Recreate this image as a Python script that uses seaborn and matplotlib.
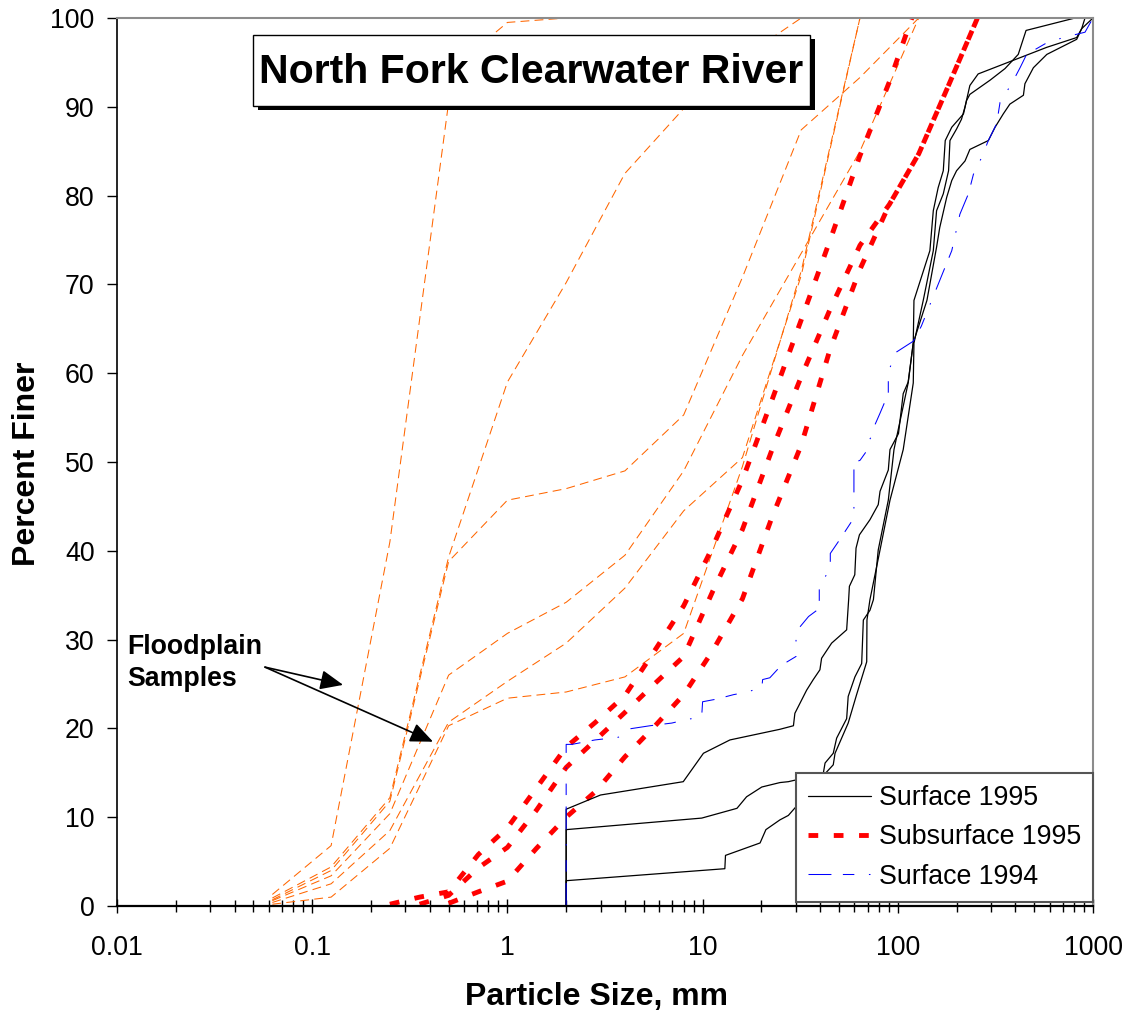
import numpy as np
import pandas as pd
import matplotlib
matplotlib.use("Agg")
import matplotlib.pyplot as plt
import seaborn as sns
from matplotlib.lines import Line2D
from matplotlib.patches import Rectangle
from matplotlib.ticker import LogLocator, NullFormatter

# ---------------- data ----------------
# Floodplain samples (orange dashed)
fp1_x = [0.0625, 0.125, 0.25, 0.5, 0.85, 1, 2]
fp1_y = [1.3, 6.8, 41.0, 90.5, 98.2, 99.5, 100]
fp2_x = [0.0625, 0.125, 0.25, 0.5, 1, 2, 4, 8, 16, 32]
fp2_y = [0.9, 4.4, 12.2, 39.3, 59.0, 70.2, 82.5, 89.8, 95.5, 100]
fp3_x = [0.0625, 0.125, 0.25, 0.5, 1, 2, 4, 8, 16, 32, 64, 128]
fp3_y = [0.7, 4.0, 11.8, 38.8, 45.7, 47.0, 49.0, 55.3, 70.8, 87.4, 93.3, 100]
fp4_x = [0.0625, 0.125, 0.25, 0.5, 1, 2, 4, 8, 16, 32, 64, 128]
fp4_y = [0.6, 3.4, 10.4, 26.0, 30.7, 34.2, 39.5, 49.0, 62.0, 73.5, 85.0, 100]
fp5_x = [0.0625, 0.125, 0.25, 0.5, 1, 2, 4, 8, 16, 32, 64]
fp5_y = [0.4, 2.5, 8.5, 20.7, 25.3, 29.6, 35.8, 44.5, 50.5, 71.0, 100]
fp6_x = [0.0625, 0.125, 0.25, 0.5, 1, 2, 4, 8, 16, 32, 64]
fp6_y = [0.2, 1.0, 6.5, 20.3, 23.4, 24.1, 25.8, 30.7, 49.5, 71.5, 100]

# Subsurface 1995 (red thick dashed)
sub1_x = [0.25, 0.355, 0.5, 0.71, 1, 1.41, 2, 2.83, 4, 5.66, 8, 11.3, 16, 22.6, 32, 45, 64, 90.5, 118]
sub1_y = [0.2, 1.0, 1.6, 5.8, 8.8, 13.3, 17.9, 20.7, 23.7, 28.7, 33.8, 40.5, 48.0, 56.9, 66.0, 75.0, 84.5, 92.8, 100]
sub2_x = [0.355, 0.5, 0.71, 1, 1.41, 2, 2.83, 4, 5.66, 8, 11.3, 16, 22.6, 32, 45, 64, 90.5, 128, 181, 256]
sub2_y = [0.2, 1.2, 4.3, 6.6, 10.8, 15.6, 18.7, 21.8, 25.0, 28.1, 35.5, 42.4, 51.3, 59.6, 67.2, 74.4, 79.0, 84.7, 92.3, 100]
sub3_x = [0.5, 0.71, 1, 1.41, 2, 2.83, 4, 5.66, 8, 11.3, 16, 22.6, 32, 45, 64, 90.5, 128, 181, 256]
sub3_y = [0.3, 1.6, 2.8, 6.5, 10.0, 12.9, 16.8, 20.2, 23.8, 28.8, 34.6, 43.7, 51.9, 62.7, 71.7, 79.0, 84.7, 92.3, 100]

# Surface 1995 (black solid)
srf1_x = [2, 2, 3.0, 7.96, 10.1, 13.8, 24.9, 29.2, 29.7, 34.1, 36.9, 39.9, 40.7, 45.8, 54.7, 56.0,
          56.5, 60.2, 61.1, 63.6, 72, 79.4, 81.1, 89.4, 91.2, 100.8, 106.6, 113, 120, 141, 158, 164,
          178, 189, 200, 221, 234, 291, 315, 347, 375, 440, 448, 495, 580, 825, 875, 910]
srf1_y = [0, 10.9, 12.5, 14.0, 17.2, 18.7, 19.9, 20.3, 21.7, 24.3, 25.5, 26.6, 27.9, 29.6, 31.1, 34.5,
          36.0, 37.3, 40.3, 41.8, 43.5, 45.2, 46.7, 49.1, 51.4, 53.2, 57.7, 59.0, 63.4, 68.2, 74.2, 76.4,
          79.8, 81.7, 82.8, 83.9, 85.2, 86.2, 87.7, 89.2, 90.3, 91.3, 92.6, 94.4, 95.9, 97.6, 98.8, 100]
srf2_x = [2, 2, 9.9, 15, 16.8, 20.1, 24.9, 27.5, 41.5, 42.4, 46.7, 48.6, 54.7, 55.7, 60.3, 65.3, 66.6,
          72, 75, 79.4, 89.4, 95.6, 113, 120, 121, 146, 152, 161, 171, 175, 189, 217, 225, 234, 297,
          354, 414, 454, 809]
srf2_y = [0, 8.6, 9.9, 11.0, 12.3, 13.4, 13.9, 14.0, 14.9, 16.1, 17.2, 18.9, 21.1, 23.6, 25.8, 27.3, 32.2,
          33.3, 34.5, 40.1, 45.7, 51.4, 58.9, 63.4, 68.2, 73.8, 78.3, 80.9, 82.8, 86.2, 87.7, 89.2, 90.7,
          91.4, 93.0, 94.3, 95.9, 98.6, 100]
srf3_x = [2, 2, 13, 13.1, 19.7, 21.1, 24.9, 27.5, 42.4, 46.7, 47.7, 55.7, 61.5, 69.3, 69.5, 72, 81.1,
          91.2, 106.6, 120, 121, 135, 152, 158, 171, 182, 185, 200, 212, 221, 234, 258, 580, 825, 875, 1000]
srf3_y = [0, 2.85, 4.2, 5.7, 7.1, 8.6, 9.7, 10.2, 14.9, 15.9, 17.2, 20.6, 23.8, 27.5, 32.2, 34.5, 40.1,
          45.7, 51.4, 58.9, 63.4, 68.2, 73.8, 78.3, 80.2, 82.8, 86.2, 87.5, 88.6, 90.0, 92.4, 93.7, 96.7,
          97.8, 98.8, 100]

# Surface 1994 (blue dash-dot)
s94_x = [2, 2, 2.14, 2.81, 3.7, 4.09, 5.38, 6.95, 8.29, 9.89, 10.0, 11.8, 14.4, 16.1, 18.9, 20.1, 20.3,
         22.1, 25.3, 30.1, 30.1, 34.9, 39.6, 39.6, 45.1, 45.1, 50.2, 59.6, 59.6, 64.1, 70.6, 70.6, 75, 75,
         81.1, 89.4, 89.4, 98.7, 120, 132, 146, 189, 208, 230, 244, 269, 291, 321, 334, 383, 423, 457,
         579, 705, 910, 1000]
s94_y = [0, 18.2, 18.2, 18.7, 19.0, 19.9, 20.3, 20.6, 21.0, 21.3, 23.0, 23.3, 23.8, 24.0, 24.4, 24.5, 25.5,
         25.7, 27.1, 28.1, 30.9, 32.6, 33.5, 36.0, 38.0, 39.7, 41.2, 43.7, 49.9, 50.2, 51.5, 52.3, 53.2, 53.8,
         55.5, 57.7, 60.2, 62.4, 63.6, 65.3, 67.7, 73.8, 77.9, 80.2, 82.4, 84.3, 86.2, 88.1, 90.5, 92.6, 94.4,
         95.9, 97.2, 97.8, 98.4, 100]

x_ticks = [0.01, 0.1, 1, 10, 100, 1000]
x_tick_labels = ["0.01", "0.1", "1", "10", "100", "1000"]
y_ticks = list(range(0, 101, 10))
legend_labels = ["Surface 1995", "Subsurface 1995", "Surface 1994"]

# ---------------- style ----------------
sns.set_style("white")
plt.rcParams["font.family"] = ["Liberation Sans", "DejaVu Sans"]
plt.rcParams["text.color"] = "black"
plt.rcParams["axes.labelcolor"] = "black"
plt.rcParams["xtick.color"] = "black"
plt.rcParams["ytick.color"] = "black"

W, H = 1129, 1014
fig = plt.figure(figsize=(W / 100, H / 100), dpi=100)
ax = fig.add_axes([117 / W, 1 - 906 / H, (1093 - 117) / W, (906 - 18) / H])
ax.set_xscale("log")
ax.set_xlim(0.01, 1000)
ax.set_ylim(0, 100)

ORANGE = "#FF6600"
RED = "#FF0000"
BLUE = "#0000FF"
orange_ls = (0, (8.5, 5))
red_ls = (0, (2.0, 3.2))
blue_ls = (0, (22, 11, 11, 14, 1.5, 14))


def draw(x, y, **kw):
    df = pd.DataFrame({"size": x, "finer": y})
    sns.lineplot(data=df, x="size", y="finer", ax=ax, sort=False,
                 estimator=None, **kw)


for fx, fy in [(fp1_x, fp1_y), (fp2_x, fp2_y), (fp3_x, fp3_y),
               (fp4_x, fp4_y), (fp5_x, fp5_y), (fp6_x, fp6_y)]:
    draw(fx, fy, color=ORANGE, linewidth=0.75, linestyle=orange_ls)

for rx, ry in [(sub1_x, sub1_y), (sub2_x, sub2_y), (sub3_x, sub3_y)]:
    draw(rx, ry, color=RED, linewidth=3.5, linestyle=red_ls)

for bx, by in [(srf1_x, srf1_y), (srf2_x, srf2_y), (srf3_x, srf3_y)]:
    draw(bx, by, color="black", linewidth=0.9, linestyle="-")

draw(s94_x, s94_y, color=BLUE, linewidth=0.75, linestyle=blue_ls)

# ---------------- axes ----------------
ax.set_xticks(x_ticks)
ax.set_xticklabels(x_tick_labels)
ax.xaxis.set_minor_locator(LogLocator(base=10, subs=np.arange(2, 10), numticks=100))
ax.xaxis.set_minor_formatter(NullFormatter())
ax.tick_params(axis="x", which="major", direction="inout", length=9.5, width=1.0,
               pad=16, labelsize=19.3, colors="black", bottom=True)
ax.tick_params(axis="x", which="minor", direction="inout", length=8.5, width=1.0,
               colors="black", bottom=True)
ax.set_yticks(y_ticks)
ax.tick_params(axis="y", which="major", direction="out", length=7.2, width=1.0,
               pad=8.9, labelsize=19.3, colors="black", left=True)

for s in ["top", "right"]:
    ax.spines[s].set_color("#8c8c8c")
    ax.spines[s].set_linewidth(1.5)
ax.spines["left"].set_color("black")
ax.spines["left"].set_linewidth(1.2)
ax.spines["bottom"].set_color("black")
ax.spines["bottom"].set_linewidth(1.6)
ax.grid(False)

ax.set_xlabel("Particle Size, mm", fontsize=23, fontweight="bold", color="black")
ax.set_ylabel("Percent Finer", fontsize=23, fontweight="bold", color="black")
ax.xaxis.label.set_va("baseline")
ax.xaxis.set_label_coords(0.491, (906 - 1005.5) / 888)
ax.yaxis.set_label_coords(-0.0764, 0.498)

# ---------------- legend ----------------
handles = [Line2D([], [], color="black", lw=0.9),
           Line2D([], [], color=RED, lw=3.5, linestyle=red_ls),
           Line2D([], [], color=BLUE, lw=0.75, linestyle=blue_ls)]
leg = ax.legend(handles, legend_labels, loc="upper right",
                bbox_to_anchor=(1.0, 0.1498), borderaxespad=0, fontsize=19.3,
                handlelength=2.32, handletextpad=0.3, borderpad=0.45,
                labelspacing=0.5, frameon=True, fancybox=False,
                edgecolor="#555555", framealpha=1)
leg.get_frame().set_linewidth(1.5)
for t in leg.get_texts():
    t.set_color("black")

# ---------------- annotation ----------------
ax.text(0.01122, 30.6, "Floodplain\nSamples", fontsize=19.3, fontweight="bold",
        ha="left", va="top", linespacing=1.3, color="black")
arrow_kw = dict(arrowstyle="-|>,head_length=1.4,head_width=0.6", color="black",
                lw=1.2, shrinkA=0, shrinkB=0, mutation_scale=10)
ax.annotate("", xy=(0.144, 24.9), xytext=(0.0573, 26.9), arrowprops=arrow_kw)
ax.annotate("", xy=(0.416, 18.5), xytext=(0.0573, 26.9), arrowprops=arrow_kw)

# ---------------- title box ----------------
fig.add_artist(Rectangle((257.5 / W, 1 - 110 / H), (815.4 - 257.5) / W, (110 - 39) / H,
                         transform=fig.transFigure, facecolor="black",
                         edgecolor="none", zorder=10))
fig.add_artist(Rectangle((252.5 / W, 1 - 106 / H), (810.4 - 252.5) / W, (106 - 35) / H,
                         transform=fig.transFigure, facecolor="white",
                         edgecolor="black", lw=1.0, zorder=11))
fig.text(531.5 / W, 1 - 83.3 / H, "North Fork Clearwater River", ha="center",
         va="baseline", fontsize=29.5, fontweight="bold", color="black", zorder=12)

fig.savefig("out.png", dpi=100, facecolor="white")
